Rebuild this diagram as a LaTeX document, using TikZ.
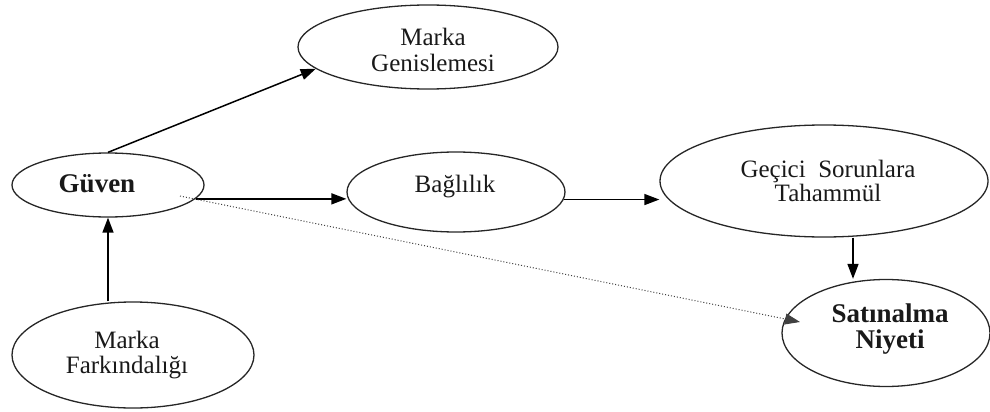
\documentclass[tikz,border=0pt]{standalone}
\usepackage{fontspec}
\setmainfont{Liberation Serif}
\usetikzlibrary{shapes.geometric,arrows.meta,calc}
\begin{document}
\begin{tikzpicture}[x=1pt,y=-1pt,
  oval/.style={draw=black!85,line width=1.3pt,ellipse,inner sep=0pt},
  lbl/.style={align=center,inner sep=0pt,text=black!90},
  txt/.style={lbl,font=\fontsize{25}{#1}\selectfont},
  btxt/.style={lbl,font=\fontsize{27}{#1}\selectfont\bfseries},
  arr/.style={line width=1.5pt,-{Triangle[length=15pt,width=11pt]}},
  hint/.style={line width=1pt,dotted,black!75,-{Triangle[length=15pt,width=11pt]}}]
\useasboundingbox (0,0) rectangle (990,412);

% ovals
\node[oval,minimum width=260pt,minimum height=84pt]  (mg) at (428,47)  {};
\node[oval,minimum width=192pt,minimum height=64pt]  (gv) at (108,185) {};
\node[oval,minimum width=218pt,minimum height=80pt]  (bg) at (456,192) {};
\node[oval,minimum width=328pt,minimum height=112pt] (ge) at (824,181) {};
\node[oval,minimum width=208pt,minimum height=107pt] (sn) at (886,333) {};
\node[oval,minimum width=242pt,minimum height=106pt] (mf) at (133,355) {};

% labels
\node[txt=26]  (mgt) at (433,50)  {Marka\\Genislemesi};
\node[btxt=26] (gvt) at (97,184)  {Güven};
\node[txt=26]  (bgt) at (455,187) {Bağlılık};
\node[txt=21]  (get) at (828,181) {Geçici~~Sorunlara\\Tahammül};
\node[btxt=26] (snt) at (890,329) {Satınalma\\Niyeti};
\node[txt=25]  (mft) at (127,355) {Marka\\Farkındalığı};

% connectors
\coordinate (drop) at (853,0);
\draw[arr] (gv.north) -- (mg.191);
\draw[arr] (gv.-9) -- (gv.-9 -| bg.west);
\draw[arr] (bg.-4) -- (bg.-4 -| ge.west);
\draw[arr] (drop |- ge.south) -- (drop |- sn.north);
\draw[arr] (gv.south |- mf.north) -- (gv.south);
\draw[hint] ($(gv.center)+(72,11)$) -- ($(sn.center)+(-86,-11)$);
\end{tikzpicture}
\end{document}
